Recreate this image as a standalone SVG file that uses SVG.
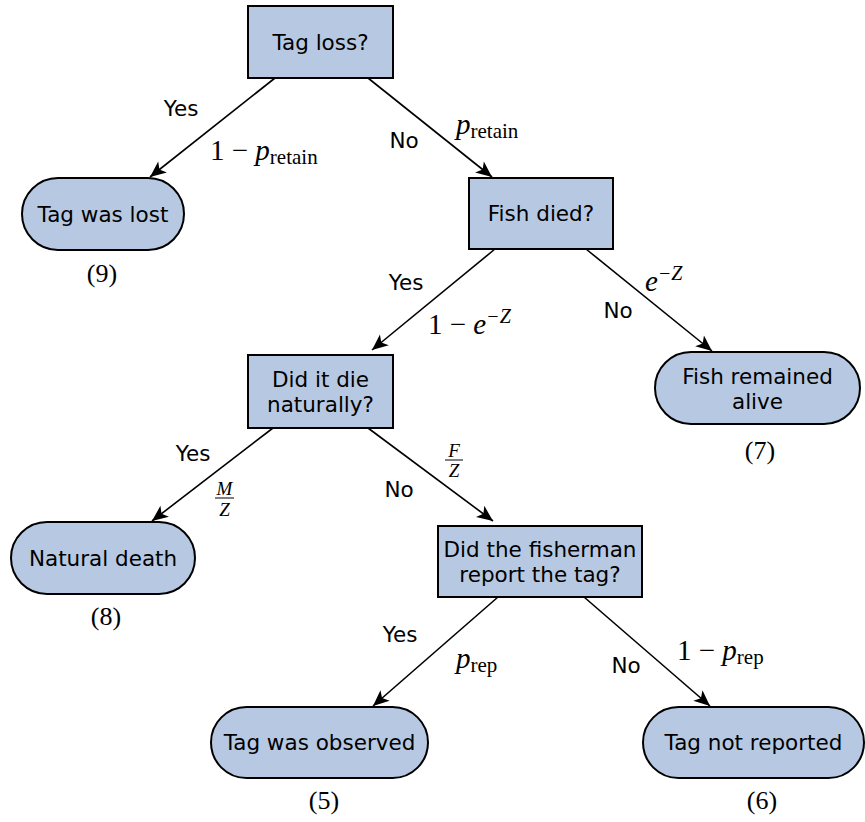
<svg xmlns="http://www.w3.org/2000/svg" width="865" height="822" viewBox="0 0 865 822">
<style>
.box{fill:#b7c9e2;stroke:#000;stroke-width:2}
.t{font-family:"DejaVu Sans",sans-serif;font-size:21.5px;fill:#000;text-anchor:middle;dominant-baseline:central}
.l{font-family:"DejaVu Sans",sans-serif;font-size:21.5px;fill:#000;text-anchor:middle;dominant-baseline:central}
.m{font-family:"Liberation Serif","DejaVu Serif",serif;font-size:29px;fill:#000}
.mi{font-style:italic}
.sub{font-size:21px;font-style:normal}
.sup{font-size:20px;font-style:italic}
.sm{font-family:"Liberation Serif","DejaVu Serif",serif;font-size:19px;font-style:italic;fill:#000;text-anchor:middle}
.n{font-family:"Liberation Serif","DejaVu Serif",serif;font-size:26px;fill:#000;text-anchor:middle}
.c{stroke:#000;stroke-width:1.6;fill:none;marker-end:url(#ah)}
</style>
<defs>
<marker id="ah" markerUnits="userSpaceOnUse" markerWidth="20" markerHeight="16" viewBox="-1 -8 18 16" refX="16" refY="0" orient="auto">
<path d="M0,-7 L16,0 L0,7 L4,0 Z" fill="#000"/>
</marker>
</defs>
<rect width="865" height="822" fill="#fff"/>
<g id="connectors">
<line class="c" x1="275" y1="78" x2="150" y2="177"/>
<line class="c" x1="368" y1="78" x2="492" y2="177"/>
<line class="c" x1="495" y1="249" x2="372" y2="350"/>
<line class="c" x1="586" y1="249" x2="712" y2="351"/>
<line class="c" x1="273" y1="428" x2="152" y2="521"/>
<line class="c" x1="368" y1="428" x2="493" y2="521"/>
<line class="c" x1="498" y1="597" x2="373" y2="706"/>
<line class="c" x1="584" y1="597" x2="710" y2="706"/>
</g>
<g id="edge-labels">
<text class="l" x="181" y="108">Yes</text>
<text class="m" x="210" y="160">1 − <tspan class="mi">p</tspan><tspan class="sub" dy="4">retain</tspan></text>
<text class="l" x="404" y="140">No</text>
<text class="m" x="456" y="134"><tspan class="mi">p</tspan><tspan class="sub" dy="4">retain</tspan></text>
<text class="l" x="406" y="282">Yes</text>
<text class="m" x="428" y="334">1 − <tspan class="mi">e</tspan><tspan class="sup" dy="-11">−Z</tspan></text>
<text class="m" x="645" y="291"><tspan class="mi">e</tspan><tspan class="sup" dy="-11">−Z</tspan></text>
<text class="l" x="618" y="310">No</text>
<text class="l" x="193" y="453">Yes</text>
<text class="sm" x="224.5" y="495">M</text>
<line x1="215" y1="498" x2="234" y2="498" stroke="#000" stroke-width="1"/>
<text class="sm" x="224.5" y="516">Z</text>
<text class="sm" x="454" y="457">F</text>
<line x1="445" y1="460" x2="463" y2="460" stroke="#000" stroke-width="1"/>
<text class="sm" x="454" y="477">Z</text>
<text class="l" x="399" y="489">No</text>
<text class="l" x="400" y="634">Yes</text>
<text class="m" x="456" y="668"><tspan class="mi">p</tspan><tspan class="sub" dy="4">rep</tspan></text>
<text class="l" x="626" y="665">No</text>
<text class="m" x="677" y="660">1 − <tspan class="mi">p</tspan><tspan class="sub" dy="4">rep</tspan></text>
</g>
<g id="tag-loss">
<rect class="box" x="248" y="6" width="145" height="72"/>
<text class="t" x="320.5" y="42">Tag loss?</text>
</g>
<g id="tag-was-lost">
<rect class="box" x="22" y="178" width="162" height="72" rx="36"/>
<text class="t" x="103" y="214">Tag was lost</text>
<text class="n" x="102" y="282">(9)</text>
</g>
<g id="fish-died">
<rect class="box" x="469" y="178" width="144" height="71"/>
<text class="t" x="541" y="213.5">Fish died?</text>
</g>
<g id="fish-remained-alive">
<rect class="box" x="655" y="352" width="205" height="72" rx="36"/>
<text class="t" x="757.5" y="376">Fish remained</text>
<text class="t" x="757.5" y="401">alive</text>
<text class="n" x="760" y="459">(7)</text>
</g>
<g id="die-naturally">
<rect class="box" x="248" y="355" width="145" height="73"/>
<text class="t" x="320.5" y="379">Did it die</text>
<text class="t" x="320.5" y="404">naturally?</text>
</g>
<g id="natural-death">
<rect class="box" x="11" y="522" width="184" height="72" rx="36"/>
<text class="t" x="103" y="558">Natural death</text>
<text class="n" x="106" y="625">(8)</text>
</g>
<g id="fisherman-report">
<rect class="box" x="438" y="526" width="204" height="71"/>
<text class="t" x="540" y="549">Did the fisherman</text>
<text class="t" x="540" y="574">report the tag?</text>
</g>
<g id="tag-observed">
<rect class="box" x="211" y="707" width="217" height="71" rx="35.5"/>
<text class="t" x="319.5" y="742.5">Tag was observed</text>
<text class="n" x="324" y="809">(5)</text>
</g>
<g id="tag-not-reported">
<rect class="box" x="643" y="707" width="221" height="71" rx="35.5"/>
<text class="t" x="753.5" y="742.5">Tag not reported</text>
<text class="n" x="762" y="809">(6)</text>
</g>
</svg>
